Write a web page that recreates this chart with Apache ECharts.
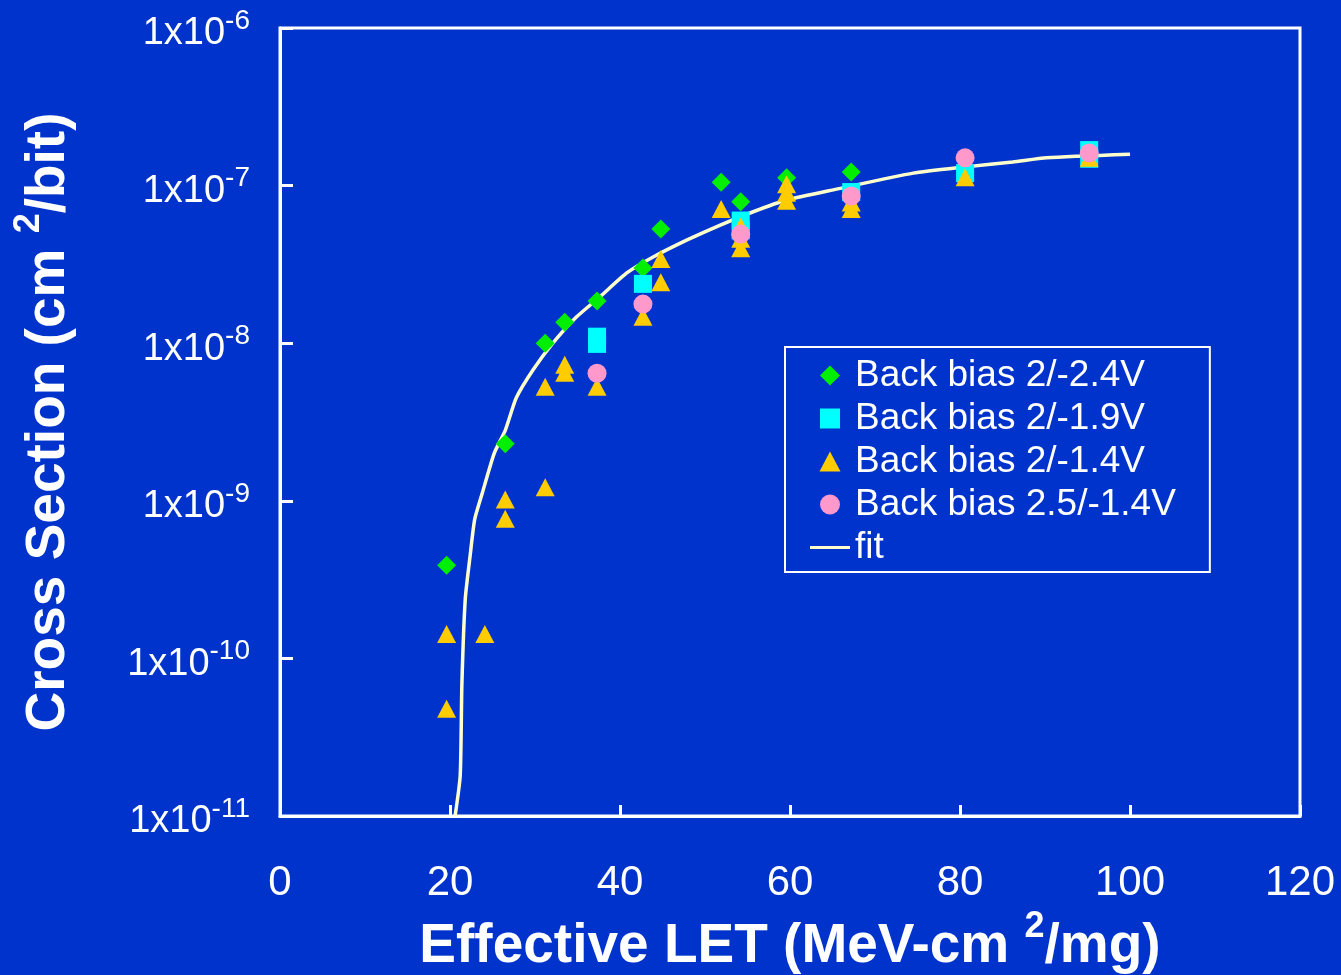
<!DOCTYPE html>
<html>
<head>
<meta charset="utf-8">
<script src="https://cdn.jsdelivr.net/npm/echarts@6/dist/echarts.min.js"></script>
<style>
	html, body {margin: 0; padding: 0; background: #0033cc;}
	#chart {width: 1341px; height: 975px;}
</style>
</head>
<body>
<div id="chart"></div>
<script>
// data
var xTicks = [0, 20, 40, 60, 80, 100, 120];
var yExponents = [-11, -10, -9, -8, -7, -6];

// Back bias 2/-2.4V
var greenX = [19.6, 26.5, 31.2, 33.5, 37.3, 42.7, 44.8, 51.9, 54.2, 59.6, 67.2];
var greenY = [3.9e-10, 2.3e-9, 1.0e-8, 1.36e-8, 1.85e-8, 3.0e-8, 5.3e-8, 1.05e-7, 7.9e-8, 1.12e-7, 1.22e-7];

// Back bias 2/-1.9V
var cyanX = [37.3, 37.3, 42.7, 54.2, 54.2, 67.2, 80.6, 95.2, 95.2];
var cyanY = [1.1e-8, 9.9e-9, 2.38e-8, 6.0e-8, 5.2e-8, 9.1e-8, 1.2e-7, 1.68e-7, 1.48e-7];

// Back bias 2/-1.4V
var yellowX = [19.6, 19.6, 24.1, 26.5, 26.5, 31.2, 31.2, 33.5, 33.5, 37.3, 42.7, 44.8, 44.8, 51.9,
	54.2, 54.2, 54.2, 59.6, 59.6, 59.6, 67.2, 67.2, 80.6, 95.2];
var yellowY = [1.43e-10, 4.8e-11, 1.43e-10, 1.02e-9, 7.7e-10, 1.22e-9, 5.3e-9, 7.3e-9, 6.5e-9, 5.3e-9,
	1.47e-8, 3.42e-8, 2.44e-8, 7.1e-8, 5.5e-8, 4.6e-8, 4.0e-8, 1.02e-7, 9.0e-8, 8.0e-8, 7.8e-8, 7.1e-8,
	1.13e-7, 1.5e-7];

// Back bias 2.5/-1.4V
var pinkX = [37.3, 42.7, 54.2, 67.2, 80.6, 95.2];
var pinkY = [6.45e-9, 1.77e-8, 4.93e-8, 8.6e-8, 1.5e-7, 1.61e-7];

// fit
var fitX = [20.6, 21.2, 21.4, 21.8, 22.35, 22.9, 23.8, 25.2, 26.5, 27.8, 29.8, 32.1, 34.9, 37.6, 40.8,
	43.9, 47.9, 51.8, 55.6, 59.6, 65.5, 74.5, 80.4, 86.2, 90.2, 100];
var fitY = [1e-11, 1.8e-11, 6.9e-11, 2.4e-10, 4.4e-10, 7.6e-10, 1.12e-9, 2.0e-9, 2.8e-9, 4.5e-9, 6.8e-9,
	1.0e-8, 1.47e-8, 1.96e-8, 2.79e-8, 3.52e-8, 4.52e-8, 5.62e-8, 6.8e-8, 8.1e-8, 9.5e-8, 1.2e-7, 1.31e-7,
	1.41e-7, 1.5e-7, 1.58e-7];

function pairs(xs, ys) {
	var out = [];
	xs.forEach(function(a, b) {
		out.push([a, ys[b]]);
	});
	return out;
}

var FONT = '"Liberation Sans", Arial, sans-serif';
var chart = echarts.init(document.getElementById('chart'));

// legend icons as paths so they keep their aspect in a wide box
var ICON_DIAMOND = 'path://M1,0L2,1L1,2L0,1Z';
var ICON_SQUARE = 'path://M0,0H2V2H0Z';
var ICON_TRIANGLE = 'path://M1,0L2,1.9L0,1.9Z';
var ICON_CIRCLE = 'path://M1,0A1,1,0,1,1,1,2A1,1,0,1,1,1,0Z';
var ICON_LINE = 'path://M0,0H40V3H0Z';

chart.setOption({
	backgroundColor: '#0033cc',
	animation: false,
	grid: {
		left: 280,
		right: 41,
		top: 28,
		bottom: 159,
		outerBoundsMode: 'none',
		containLabel: false,
		show: true,
		borderColor: '#ffffff',
		borderWidth: 3,
		backgroundColor: 'transparent'
	},
	legend: {
		orient: 'vertical',
		left: 785,
		top: 347,
		padding: [10, 34, 6, 25],
		borderColor: '#ffffff',
		borderWidth: 2,
		itemWidth: 40,
		itemHeight: 20,
		itemGap: 6,
		symbolKeepAspect: true,
		textStyle: {
			color: '#ffffff',
			fontSize: 37,
			fontFamily: FONT
		},
		data: [
			{name: 'Back bias 2/-2.4V', icon: ICON_DIAMOND},
			{name: 'Back bias 2/-1.9V', icon: ICON_SQUARE},
			{name: 'Back bias 2/-1.4V', icon: ICON_TRIANGLE},
			{name: 'Back bias 2.5/-1.4V', icon: ICON_CIRCLE},
			{name: 'fit', icon: ICON_LINE}
		]
	},
	xAxis: {
		type: 'value',
		min: 0,
		max: 120,
		interval: 20,
		name: 'Effective LET (MeV-cm {s|2}/mg)',
		nameLocation: 'middle',
		nameGap: 91,
		nameTextStyle: {
			color: '#ffffff',
			fontSize: 55,
			fontWeight: 'bold',
			fontFamily: FONT,
			rich: {
				s: {
					fontSize: 36,
					fontWeight: 'bold',
					color: '#ffffff',
					fontFamily: FONT,
					padding: [0, 0, 40, 0]
				}
			}
		},
		axisLine: {lineStyle: {color: '#ffffff', width: 3}},
		axisTick: {inside: true, length: 11, lineStyle: {color: '#ffffff', width: 3}},
		splitLine: {show: false},
		axisLabel: {
			color: '#ffffff',
			fontSize: 42,
			fontFamily: FONT,
			margin: 46,
			formatter: function(v) {
				return xTicks.indexOf(v) >= 0 ? String(v) : '';
			}
		}
	},
	yAxis: {
		type: 'log',
		logBase: 10,
		min: 1e-11,
		max: 1e-6,
		name: 'Cross Section (cm {s|2}/bit)',
		nameLocation: 'middle',
		nameGap: 193,
		nameRotate: 90,
		nameTextStyle: {
			color: '#ffffff',
			fontSize: 55,
			fontWeight: 'bold',
			fontFamily: FONT,
			rich: {
				s: {
					fontSize: 36,
					fontWeight: 'bold',
					color: '#ffffff',
					fontFamily: FONT,
					padding: [0, 0, 40, 0]
				}
			}
		},
		axisLine: {show: true, lineStyle: {color: '#ffffff', width: 3}},
		axisTick: {inside: true, length: 13, lineStyle: {color: '#ffffff', width: 3}},
		minorTick: {show: false},
		splitLine: {show: false},
		axisLabel: {
			margin: 30,
			formatter: function(v) {
				var e = Math.round(Math.log10(v));
				if (yExponents.indexOf(e) < 0) return '';
				return '{b|1x10}{s|' + e + '}';
			},
			rich: {
				b: {
					color: '#ffffff',
					fontSize: 38,
					fontFamily: FONT,
					padding: [12, 0, 0, 0]
				},
				s: {
					color: '#ffffff',
					fontSize: 28,
					fontFamily: FONT,
					padding: [0, 0, 14, 0]
				}
			}
		}
	},
	series: [{
		name: 'fit',
		type: 'line',
		symbol: 'none',
		smooth: 0.2,
		z: 1,
		lineStyle: {color: '#ffffcc', width: 3.5},
		itemStyle: {color: '#ffffcc'},
		data: pairs(fitX, fitY)
	}, {
		name: 'Back bias 2/-2.4V',
		type: 'scatter',
		symbol: 'diamond',
		symbolSize: 19,
		z: 2,
		itemStyle: {color: '#00ee00', opacity: 1},
		data: pairs(greenX, greenY)
	}, {
		name: 'Back bias 2/-1.9V',
		type: 'scatter',
		symbol: 'rect',
		symbolSize: 18,
		z: 3,
		itemStyle: {color: '#00ffff', opacity: 1},
		data: pairs(cyanX, cyanY)
	}, {
		name: 'Back bias 2/-1.4V',
		type: 'scatter',
		symbol: 'triangle',
		symbolSize: [19, 18],
		z: 4,
		itemStyle: {color: '#ffcc00', opacity: 1},
		data: pairs(yellowX, yellowY)
	}, {
		name: 'Back bias 2.5/-1.4V',
		type: 'scatter',
		symbol: 'circle',
		symbolSize: 19,
		z: 5,
		itemStyle: {color: '#ff99cc', opacity: 1},
		data: pairs(pinkX, pinkY)
	}]
});
</script>
</body>
</html>
